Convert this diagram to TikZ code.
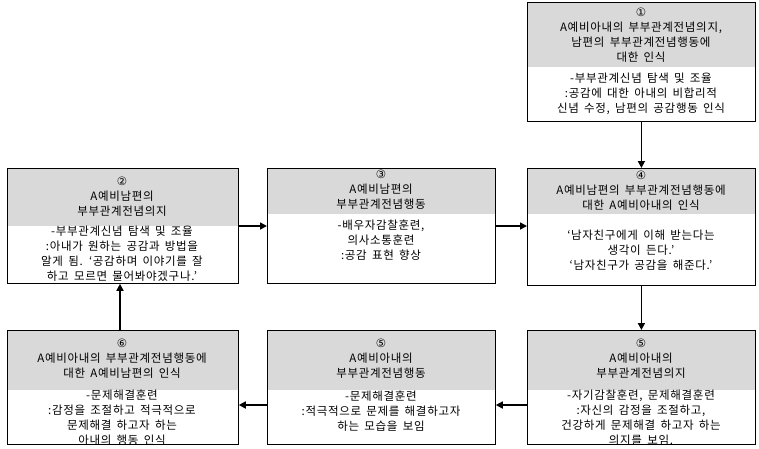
\documentclass[tikz,border=0pt]{standalone}
\usepackage{fontspec}
\setmainfont{Noto Sans CJK KR}[LetterSpace=6,WordSpace=1.6]
\newfontfamily\sym{DejaVu Sans}
\usetikzlibrary{arrows.meta}
\begin{document}
\begin{tikzpicture}[x=1pt,y=-1pt,
  frame/.style={draw,line width=0.8pt},
  hd/.style={fill=black!15},
  txt/.style={align=center,font=\fontsize{11.5}{15}\selectfont,inner sep=0pt},
  arr/.style={-{Triangle[length=7pt,width=7pt]},line width=1.6pt}]
\useasboundingbox (0,0) rectangle (759,448);
\newcommand\mybox[6]{% name, x1,y1,x2,y2, header bottom
  \fill[hd] (#2,#3) rectangle (#4,#6);
  \node[frame,minimum width=#4-#2,minimum height=#5-#3,inner sep=0pt,anchor=north west] (#1) at (#2,#3) {};
}
\mybox{b1}{527}{2}{755}{121}{67}
\mybox{b2}{7}{168}{238}{283}{226}
\mybox{b3}{267}{168}{495}{283}{214}
\mybox{b4}{527}{168}{755}{285}{214}
\mybox{b6}{7}{330}{238}{444}{390}
\mybox{b5a}{267}{330}{495}{444}{390}
\mybox{b5b}{527}{330}{755}{444}{390}

\node[txt] (t1) at (641,35) {{\sym ①}\\A예비아내의 부부관계전념의지,\\남편의 부부관계전념행동에\\대한 인식};
\node[txt] (s1) at (641,94) {-부부관계신념 탐색 및 조율\\:공감에 대한 아내의 비합리적\\신념 수정, 남편의 공감행동 인식};

\node[txt] (t2) at (122,197) {{\sym ②}\\A예비남편의\\부부관계전념의지};
\node[txt] (s2) at (122,254) {-부부관계신념 탐색 및 조율\\:아내가 원하는 공감과 방법을\\알게 됨. ‘공감하며 이야기를 잘\\하고 모르면 물어봐야겠구나.’};

\node[txt] (t3) at (381,190) {{\sym ③}\\A예비남편의\\부부관계전념행동};
\node[txt] (s3) at (381,240) {-배우자감찰훈련,\\의사소통훈련\\:공감 표현 향상};

\node[txt] (t4) at (641,191) {{\sym ④}\\A예비남편의 부부관계전념행동에\\대한 A예비아내의 인식};
\node[txt] (s4) at (641,250) {‘남자친구에게 이해 받는다는\\생각이 든다.’\\‘남자친구가 공감을 해준다.’};

\node[txt] (t6) at (122,359) {{\sym ⑥}\\A예비아내의 부부관계전념행동에\\대한 A예비남편의 인식};
\node[txt] (s6) at (122,418) {-문제해결훈련\\:감정을 조절하고 적극적으로\\문제해결 하고자 하는\\아내의 행동 인식};

\node[txt] (t5a) at (381,359) {{\sym ⑤}\\A예비아내의\\부부관계전념행동};
\node[txt] (s5a) at (381,411) {-문제해결훈련\\:적극적으로 문제를 해결하고자\\하는 모습을 보임};

\node[txt] (t5b) at (641,359) {{\sym ⑤}\\A예비아내의\\부부관계전념의지};
\node[txt] (s5b) at (641,418) {-자기감찰훈련, 문제해결훈련\\:자신의 감정을 조절하고,\\건강하게 문제해결 하고자 하는\\의지를 보임.};

\draw[arr] (b1.south) -- (b4.north);
\draw[arr] (b2.east |- 0,226) -- (b3.west |- 0,226);
\draw[arr] (b3.east |- 0,226) -- (b4.west |- 0,226);
\draw[arr] (b4.south) -- (b5b.north);
\draw[arr] (b5b.west |- 0,405) -- (b5a.east |- 0,405);
\draw[arr] (b5a.west |- 0,405) -- (b6.east |- 0,405);
\draw[arr] (b6.north -| 120,0) -- (b2.south -| 120,0);
\end{tikzpicture}
\end{document}
